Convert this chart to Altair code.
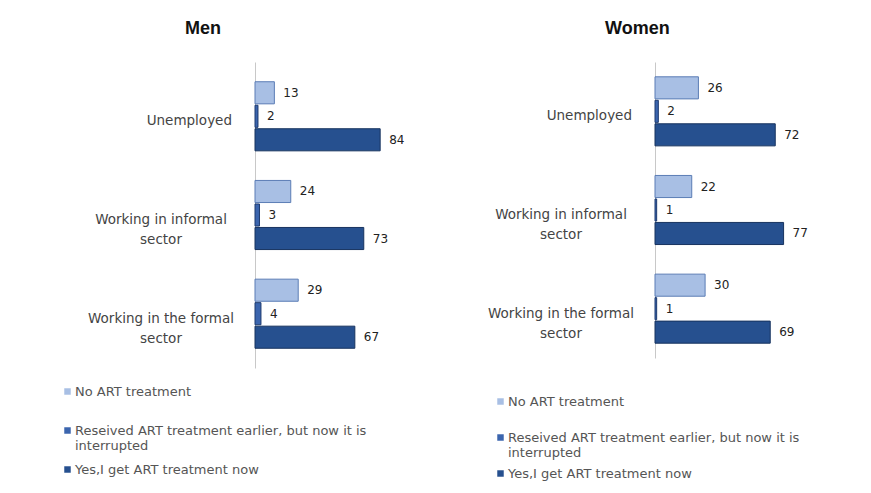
import altair as alt
import pandas as pd

categories = ["Unemployed", "Working in informal|sector", "Working in the formal|sector"]
series = [
    "No ART treatment",
    "Reseived ART treatment earlier, but now it is|interrupted",
    "Yes,I get ART treatment now",
]
men_no_art = [13, 24, 29]
men_interrupted = [2, 3, 4]
men_yes = [84, 73, 67]
women_no_art = [26, 22, 30]
women_interrupted = [2, 1, 1]
women_yes = [72, 77, 69]

fill_colors = ["#a8bfe4", "#3b65ae", "#26508f"]
edge_colors = ["#5b7db5", "#1d3a6e", "#17335f"]
FONT = "DejaVu Sans"


def frame(no_art, interrupted, yes):
    rows = []
    for s, vals in zip(series, [no_art, interrupted, yes]):
        for c, v in zip(categories, vals):
            rows.append({"category": c, "series": s, "value": v, "multiline": "|" in c})
    return pd.DataFrame(rows)


def panel(df, title, title_dx, width, height, pad_outer, legend_x, legend_y, row_pad):
    y = alt.Y(
        "category:N", sort=categories,
        scale=alt.Scale(paddingInner=0.3, paddingOuter=pad_outer),
        axis=alt.Axis(labels=False, ticks=False, domain=True, domainColor="#c8c8c8",
                      title=None, grid=False),
    )
    yoff = alt.YOffset("series:N", sort=series, scale=alt.Scale(paddingInner=0.06))
    color = alt.Color(
        "series:N", sort=series,
        scale=alt.Scale(domain=series, range=fill_colors),
        legend=alt.Legend(
            title=None, orient="none", legendX=legend_x, legendY=legend_y,
            symbolType="square", symbolSize=42, symbolStrokeWidth=0,
            labelFont=FONT, labelFontSize=13, labelColor="#555555",
            labelExpr="datum.label == 'No ART treatment' ? [datum.label, ' '] : split(datum.label, '|')",
            rowPadding=row_pad, labelLimit=400, labelOffset=1,
        ),
    )
    bars = alt.Chart(df).mark_bar(strokeWidth=1).encode(
        x=alt.X("value:Q", scale=alt.Scale(domain=[0, 100]), axis=None),
        y=y,
        yOffset=yoff,
        color=color,
        stroke=alt.Stroke("series:N", sort=series,
                          scale=alt.Scale(domain=series, range=edge_colors), legend=None),
    )
    values = alt.Chart(df).mark_text(
        align="left", baseline="middle", dx=9, fontSize=12, font=FONT, color="#222222"
    ).encode(
        x="value:Q",
        y=alt.Y("category:N", sort=categories),
        yOffset=alt.YOffset("series:N", sort=series),
        text="value:Q",
    )
    cats = df.drop_duplicates("category")
    single = alt.Chart(cats).transform_filter("!datum.multiline").mark_text(
        align="right", baseline="middle", x=-23, dy=5, fontSize=13.5, font=FONT,
        color="#444444", lineBreak="|",
    ).encode(y=alt.Y("category:N", sort=categories), text="category:N")
    multi = alt.Chart(cats).transform_filter("datum.multiline").mark_text(
        align="center", baseline="middle", x=-94, dy=5, fontSize=13.5, font=FONT,
        color="#444444", lineBreak="|", lineHeight=20,
    ).encode(y=alt.Y("category:N", sort=categories), text="category:N")
    return alt.layer(bars, values, single, multi).properties(
        width=width, height=height,
        title=alt.TitleParams(text=title, anchor="start", frame="group", dx=title_dx,
                              offset=24, fontSize=18, font="Liberation Sans",
                              fontWeight="bold", color="#111111"),
    )


men = panel(frame(men_no_art, men_interrupted, men_yes), "Men", -70, 149, 306, 0.2, -194, 323, 10)
women = panel(frame(women_no_art, women_interrupted, women_yes), "Women", -50, 167, 296, 0.15, -161, 333, 7)

chart = alt.hconcat(men, women, spacing=251, bounds="flush").resolve_scale(
    color="independent", stroke="independent", x="independent", y="independent",
    yOffset="independent",
).properties(
    padding={"left": 53, "top": 12, "right": 5, "bottom": 5},
    background="white",
).configure_view(stroke=None)

chart.save("out.html", embed_options={"renderer": "svg", "actions": False})
